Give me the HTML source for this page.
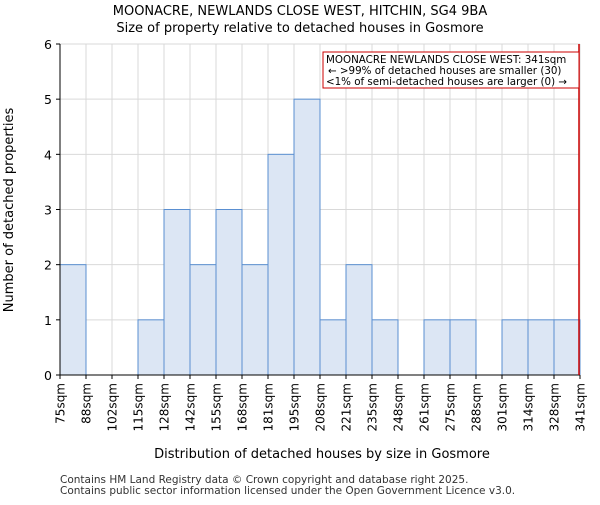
<!DOCTYPE html>
<html><head><meta charset="utf-8"><style>body{margin:0;background:#fff}svg{font-family:"DejaVu Sans","Liberation Sans",sans-serif}</style></head>
<body>
<svg id="c" width="600" height="500" xmlns="http://www.w3.org/2000/svg"></svg>
<script>
const categories=["75sqm","88sqm","102sqm","115sqm","128sqm","142sqm","155sqm","168sqm","181sqm","195sqm","208sqm","221sqm","235sqm","248sqm","261sqm","275sqm","288sqm","301sqm","314sqm","328sqm","341sqm"];
const counts=[2,0,0,1,3,2,3,2,4,5,1,2,1,0,1,1,0,1,1,1];
const yTicks=[0,1,2,3,4,5,6];
const markerIndex=20;
const svg=document.getElementById('c');const NS='http://www.w3.org/2000/svg';
const L=60,R=580,T=44,B=375,n=counts.length,bw=(R-L)/n;
const x=i=>L+i*bw, y=v=>B-(v/6)*(B-T);
function mk(t,a,p){const e=document.createElementNS(NS,t);for(const k in a)e.setAttribute(k,a[k]);(p||svg).appendChild(e);return e;}
for(let i=0;i<=n;i++){const g=mk('line',{x1:x(i),x2:x(i),y1:T,y2:B,stroke:'#d9d9d9','stroke-width':1});

}
yTicks.forEach(v=>{const g=mk('line',{x1:L,x2:R,y1:y(v),y2:y(v),stroke:'#d9d9d9','stroke-width':1});


const t=mk('text',{x:L-8,y:y(v)+5,'text-anchor':'end','font-size':12.5});t.textContent=v;


mk('line',{x1:L-4,x2:L,y1:y(v),y2:y(v),stroke:'#000'});});
counts.forEach((v,i)=>{if(v<=0)return;const r=mk('rect',{x:x(i),y:y(v),width:bw,height:B-y(v),fill:'#dce6f4',stroke:'#5a8fd1','stroke-width':1});

});
categories.forEach((c,i)=>{const px=x(i);mk('line',{x1:px,x2:px,y1:B,y2:B+4,stroke:'#000'});
const t=mk('text',{x:0,y:0,'text-anchor':'end','font-size':12,transform:`translate(${px+4.5},${B+8}) rotate(-90)`});t.textContent=c;

});
mk('line',{x1:L,x2:L,y1:T,y2:B,stroke:'#000'});mk('line',{x1:L,x2:R,y1:B,y2:B,stroke:'#000'});
const m=mk('line',{x1:x(markerIndex)-1,x2:x(markerIndex)-1,y1:T,y2:B,stroke:'#cc0000','stroke-width':1.5});


</script>
<svg style="position:absolute;left:0;top:0" width="600" height="500" xmlns="http://www.w3.org/2000/svg">
<g>
<rect x="323" y="52" width="256" height="36" fill="#fff" stroke="#cc0000" stroke-width="1"/>
<text x="326" y="63" font-size="10.3">MOONACRE NEWLANDS CLOSE WEST: 341sqm</text>
<text x="328" y="74" font-size="10.3">← &gt;99% of detached houses are smaller (30)</text>
<text x="326" y="85" font-size="10.3">&lt;1% of semi-detached houses are larger (0) →</text>
</g>
<text x="300" y="15" text-anchor="middle" font-size="13">MOONACRE, NEWLANDS CLOSE WEST, HITCHIN, SG4 9BA</text>
<text x="300" y="32" text-anchor="middle" font-size="13">Size of property relative to detached houses in Gosmore</text>
<text x="322" y="458" text-anchor="middle" font-size="13">Distribution of detached houses by size in Gosmore</text>
<text transform="translate(13,210) rotate(-90)" text-anchor="middle" font-size="13">Number of detached properties</text>
<text x="60" y="483" font-size="10.5" fill="#333">Contains HM Land Registry data © Crown copyright and database right 2025.</text>
<text x="60" y="494" font-size="10.5" fill="#333">Contains public sector information licensed under the Open Government Licence v3.0.</text>
</svg>
</body></html>
